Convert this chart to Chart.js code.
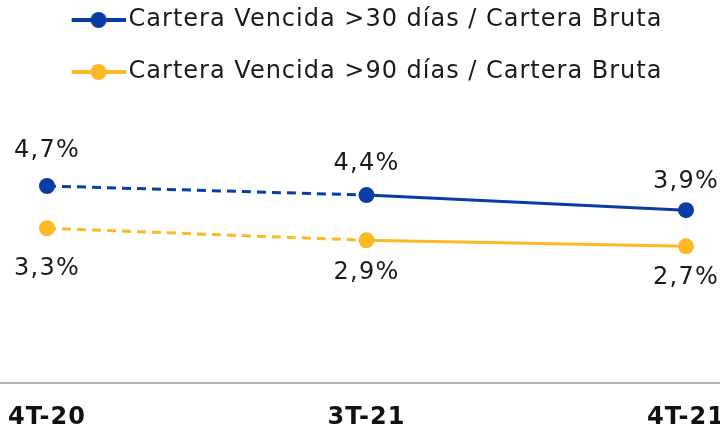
<!DOCTYPE html>
<html>
<head>
<meta charset="utf-8">
<script src="https://cdn.jsdelivr.net/npm/chart.js@4"></script>
<style>
html,body{margin:0;padding:0;background:#fff;overflow:hidden;}
#wrap{width:720px;height:432px;position:relative;}
</style>
</head>
<body>
<div id="wrap"><canvas id="c" width="720" height="432"></canvas></div>
<script>
const categories = ['4T-20', '3T-21', '4T-21'];
const series30 = [4.7, 4.4, 3.9];
const series90 = [3.3, 2.9, 2.7];
const seriesNames = ['Cartera Vencida >30 días / Cartera Bruta', 'Cartera Vencida >90 días / Cartera Bruta'];

const BLUE = '#0a3ca5';
const YELLOW = '#fdb924';
const FONT = "'DejaVu Sans', sans-serif";
const SPACING = '1px';
// label offsets (px, relative to each point), style only
const labelOffsets = [[-35, -31, -28], [41, 32, 31]];

function legendIcon(color) {
  const c = document.createElement('canvas');
  c.width = 64; c.height = 18;
  const g = c.getContext('2d');
  g.strokeStyle = color; g.lineWidth = 4;
  g.beginPath(); g.moveTo(10, 9); g.lineTo(64, 9); g.stroke();
  g.fillStyle = color;
  g.beginPath(); g.arc(37, 9, 8, 0, Math.PI * 2); g.fill();
  return c;
}

const fmt = v => v.toFixed(1).replace('.', ',') + '%';

const spacingPlugin = {
  id: 'spacing',
  beforeUpdate(chart) { chart.ctx.letterSpacing = SPACING; },
  beforeDraw(chart) { chart.ctx.letterSpacing = SPACING; }
};

const labelPlugin = {
  id: 'valueLabels',
  afterDatasetsDraw(chart) {
    const ctx = chart.ctx;
    ctx.save();
    ctx.letterSpacing = '1.2px';
    ctx.font = '24px ' + FONT;
    ctx.fillStyle = '#1a1a1a';
    ctx.textAlign = 'center';
    ctx.textBaseline = 'middle';
    chart.data.datasets.forEach((ds, di) => {
      const meta = chart.getDatasetMeta(di);
      meta.data.forEach((pt, i) => {
        ctx.fillText(fmt(ds.data[i]), pt.x, pt.y + labelOffsets[di][i]);
      });
    });
    ctx.restore();
  }
};

const axisLinePlugin = {
  id: 'axisLine',
  beforeDatasetsDraw(chart) {
    const ctx = chart.ctx;
    const y = Math.round(chart.scales.x.top);
    ctx.save();
    ctx.strokeStyle = '#b3b3b3';
    ctx.lineWidth = 2;
    ctx.beginPath(); ctx.moveTo(0, y); ctx.lineTo(chart.width, y); ctx.stroke();
    ctx.restore();
  }
};

const dashFirst = ctx => ctx.p0DataIndex === 0 ? [9, 6] : undefined;

new Chart(document.getElementById('c'), {
  type: 'line',
  data: {
    labels: categories,
    datasets: [
      {label: seriesNames[0], data: series30, borderColor: BLUE, backgroundColor: BLUE,
       pointStyle: 'circle', borderWidth: 3, pointRadius: 8, pointBackgroundColor: BLUE, pointBorderWidth: 0,
       segment: {borderDash: dashFirst}},
      {label: seriesNames[1], data: series90, borderColor: YELLOW, backgroundColor: YELLOW,
       pointStyle: 'circle', borderWidth: 3, pointRadius: 8, pointBackgroundColor: YELLOW, pointBorderWidth: 0,
       segment: {borderDash: dashFirst}}
    ]
  },
  options: {
    responsive: false,
    animation: false,
    layout: {padding: {top: -20, left: 47, right: 34, bottom: 0}},
    elements: {line: {tension: 0}},
    plugins: {
      tooltip: {enabled: false},
      legend: {
        position: 'top',
        labels: {
          usePointStyle: true,
          pointStyleWidth: 46,
          padding: 28,
          color: '#1a1a1a',
          font: {family: FONT, size: 24},
          generateLabels(chart) {
            return chart.data.datasets.map((ds, i) => ({
              text: ds.label, pointStyle: legendIcon(ds.borderColor),
              fillStyle: ds.borderColor, strokeStyle: ds.borderColor, lineWidth: 0,
              fontColor: '#1a1a1a', datasetIndex: i, hidden: false
            }));
          }
        }
      }
    },
    scales: {
      x: {
        offset: false,
        grid: {display: false, drawTicks: false},
        border: {display: false},
        ticks: {color: '#111', font: {family: FONT, size: 24, weight: 'bold'}, padding: 20, maxRotation: 0, autoSkip: false},
        afterFit(scale) { scale.paddingLeft = 0; scale.paddingRight = 0; scale.height = 49; }
      },
      y: {display: false, min: -1.83, max: 7.75}
    }
  },
  plugins: [spacingPlugin, labelPlugin, axisLinePlugin]
});
</script>
</body>
</html>
